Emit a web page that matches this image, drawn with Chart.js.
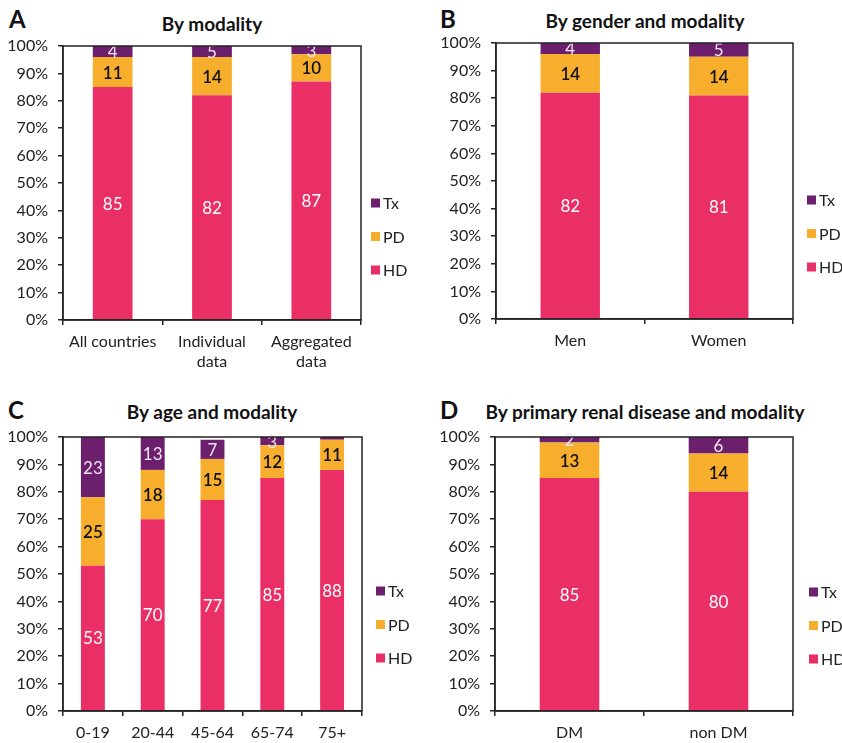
<!DOCTYPE html>
<html>
<head>
<meta charset="utf-8">
<script src="https://cdn.jsdelivr.net/npm/chart.js@4"></script>
<style>
  body { margin: 0; background: #fff; font-family: Lato, "Open Sans", sans-serif; }
  #wrap { position: relative; width: 842px; height: 743px; overflow: hidden; }
  .panel { position: absolute; }
  .letter { position: absolute; font-weight: 700; font-size: 24px; color: #111; line-height: 1; }
  .title { position: absolute; font-weight: 700; font-size: 19px; color: #111; transform: translateX(-50%); white-space: nowrap; line-height: 1; }
</style>
</head>
<body>
<div id="wrap">
  <div class="letter" style="left:9px;top:7px">A</div>
  <div class="title" style="left:212px;top:14px">By modality</div>
  <div class="letter" style="left:440px;top:7px">B</div>
  <div class="title" style="left:645px;top:11px">By gender and modality</div>
  <div class="letter" style="left:8px;top:398px">C</div>
  <div class="title" style="left:212px;top:402px">By age and modality</div>
  <div class="letter" style="left:440px;top:398px">D</div>
  <div class="title" style="left:645px;top:402px">By primary renal disease and modality</div>

  <div class="panel" style="left:0;top:0;width:421px;height:380px"><canvas id="chartA"></canvas></div>
  <div class="panel" style="left:421px;top:0;width:421px;height:380px"><canvas id="chartB"></canvas></div>
  <div class="panel" style="left:0;top:380px;width:421px;height:363px"><canvas id="chartC"></canvas></div>
  <div class="panel" style="left:421px;top:380px;width:421px;height:363px"><canvas id="chartD"></canvas></div>
</div>

<script>
// data
const seriesNames = ['HD', 'PD', 'Tx'];
const yTicks = [0, 10, 20, 30, 40, 50, 60, 70, 80, 90, 100];

const modalityLabels = ['All countries', ['Individual', 'data'], ['Aggregated', 'data']];
const modalityHD = [85, 82, 87];
const modalityPD = [11, 14, 10];
const modalityTx = [4, 5, 3];

const genderLabels = ['Men', 'Women'];
const genderHD = [82, 81];
const genderPD = [14, 14];
const genderTx = [4, 5];

const ageLabels = ['0-19', '20-44', '45-64', '65-74', '75+'];
const ageHD = [53, 70, 77, 85, 88];
const agePD = [25, 18, 15, 12, 11];
const ageTx = [23, 13, 7, 3, 1];

const diseaseLabels = ['DM', 'non DM'];
const diseaseHD = [85, 80];
const diseasePD = [13, 14];
const diseaseTx = [2, 6];

const colors = { HD: '#EA2F67', PD: '#F8AE2D', Tx: '#6C1F6D' };
const labelColors = { HD: '#ffffff', PD: '#111111', Tx: '#f1e6f1' };
const FONT = 'Lato, "Open Sans", sans-serif';

// value labels in the middle of each visible segment
const valueLabels = {
  id: 'valueLabels',
  afterDatasetsDraw(chart) {
    const ctx = chart.ctx;
    const area = chart.chartArea;
    ctx.save();
    ctx.beginPath();
    ctx.rect(area.left, area.top - 4, area.right - area.left, area.bottom - area.top + 4);
    ctx.clip();
    chart.data.datasets.forEach((ds, i) => {
      const meta = chart.getDatasetMeta(i);
      meta.data.forEach((bar, j) => {
        const v = ds.data[j];
        if (v < 2) return;
        const top = Math.max(bar.y, area.top);
        const mid = (top + bar.base) / 2;
        ctx.fillStyle = labelColors[ds.label];
        ctx.font = (ds.label === 'PD' ? '600 ' : '400 ') + '17px ' + FONT;
        ctx.textAlign = 'center';
        ctx.textBaseline = 'middle';
        ctx.fillText(String(v), bar.x, mid + 1);
      });
    });
    ctx.restore();
  }
};

// frame around the plot and the small legend on the right
const frameAndLegend = {
  id: 'frameAndLegend',
  afterDraw(chart, args, opts) {
    const ctx = chart.ctx;
    const a = chart.chartArea;
    ctx.save();
    ctx.strokeStyle = '#222';
    ctx.lineWidth = 1.5;
    ctx.strokeRect(a.left, a.top, a.right - a.left, a.bottom - a.top);
    const order = ['Tx', 'PD', 'HD'];
    ctx.font = '400 16px ' + FONT;
    ctx.textBaseline = 'middle';
    ctx.textAlign = 'left';
    order.forEach((name, k) => {
      const y = opts.y + k * 33.5;
      ctx.fillStyle = colors[name];
      ctx.fillRect(opts.x, y - 4.5, 9, 9);
      ctx.fillStyle = '#222';
      ctx.fillText(name, opts.x + 12, y + 1);
    });
    ctx.restore();
  }
};

function makeChart(id, w, h, box, labels, hd, pd, tx, legendPos) {
  const el = document.getElementById(id);
  el.width = w;
  el.height = h;
  el.style.width = w + 'px';
  el.style.height = h + 'px';
  const values = { HD: hd, PD: pd, Tx: tx };
  return new Chart(el, {
    type: 'bar',
    data: {
      labels: labels,
      datasets: seriesNames.map(name => ({
        label: name,
        data: values[name],
        backgroundColor: colors[name],
        borderWidth: 0,
        barPercentage: 0.4,
        categoryPercentage: 1
      }))
    },
    options: {
      responsive: false,
      animation: false,
      devicePixelRatio: 1,
      layout: { padding: { left: 0, top: box.top, right: w - box.right, bottom: 0 } },
      plugins: {
        legend: { display: false },
        tooltip: { enabled: false },
        frameAndLegend: legendPos
      },
      scales: {
        x: {
          stacked: true,
          afterFit: s => { s.height = h - box.bottom; },
          grid: { drawOnChartArea: false, tickLength: 5, tickColor: '#222', lineWidth: 1.5 },
          border: { color: '#222', width: 1.5 },
          ticks: {
            color: '#222', maxRotation: 0, autoSkip: false, padding: 6,
            font: { family: FONT, size: 16, lineHeight: 1.3 }
          }
        },
        y: {
          stacked: true,
          min: 0,
          max: 100,
          afterFit: s => { s.width = box.left; },
          afterBuildTicks: s => { s.ticks = yTicks.map(v => ({ value: v })); },
          grid: { drawOnChartArea: false, tickLength: 5, tickColor: '#222', lineWidth: 1.5 },
          border: { color: '#222', width: 1.5 },
          ticks: {
            color: '#222', padding: 10,
            font: { family: FONT, size: 16 },
            callback: v => v + '%'
          }
        }
      }
    },
    plugins: [valueLabels, frameAndLegend]
  });
}

makeChart('chartA', 421, 380, { left: 63, top: 46, right: 361, bottom: 320 },
  modalityLabels, modalityHD, modalityPD, modalityTx, { x: 371, y: 203 });
makeChart('chartB', 421, 380, { left: 75, top: 43, right: 372, bottom: 319 },
  genderLabels, genderHD, genderPD, genderTx, { x: 386, y: 200 });
makeChart('chartC', 421, 363, { left: 63, top: 57, right: 362, bottom: 331 },
  ageLabels, ageHD, agePD, ageTx, { x: 376, y: 211 });
makeChart('chartD', 421, 363, { left: 74, top: 57, right: 372, bottom: 331 },
  diseaseLabels, diseaseHD, diseasePD, diseaseTx, { x: 388, y: 212 });
</script>
</body>
</html>
